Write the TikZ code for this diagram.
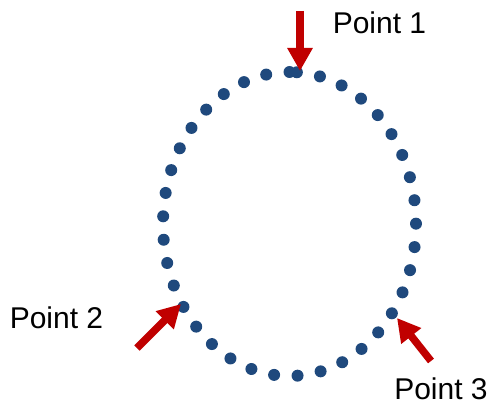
\documentclass[tikz,border=0pt]{standalone}
\usepackage{fontspec}
\setmainfont{Liberation Sans}
\usetikzlibrary{arrows.meta}
\definecolor{dotblue}{HTML}{1F497D}
\definecolor{darkred}{HTML}{C00000}
\tikzstyle{pointer}=[-{Triangle[length=23pt,width=24pt]},line width=7.5pt,color=darkred]
\tikzstyle{lbl}=[anchor=base,inner sep=0pt,font=\fontsize{30}{36}\selectfont]

\begin{document}
\begin{tikzpicture}[x=1pt,y=-1pt]
  \useasboundingbox (0,0) rectangle (493,404);
  % dotted loop
  \draw[dotblue,line width=12pt,line cap=round,dash pattern=on 0pt off 23.5pt]
    (289.5,72) arc[start angle=90,end angle=450,x radius=126.5pt,y radius=152pt];
  % arrows
  \coordinate (tail1) at (300,11);
  \coordinate (tip1) at (300,71);
  \coordinate (tail2) at (137,348);
  \coordinate (tip2) at (181,304);
  \coordinate (tail3) at (431,361);
  \coordinate (tip3) at (397,318);
  \draw[pointer] (tail1) -- (tip1);
  \draw[pointer] (tail2) -- (tip2);
  \draw[pointer] (tail3) -- (tip3);
  % labels
  \node[lbl] (pt1) at (379.5,34) {Point 1};
  \node[lbl] (pt2) at (56.5,328) {Point 2};
  \node[lbl] (pt3) at (441,399.5) {Point 3};
\end{tikzpicture}
\end{document}
